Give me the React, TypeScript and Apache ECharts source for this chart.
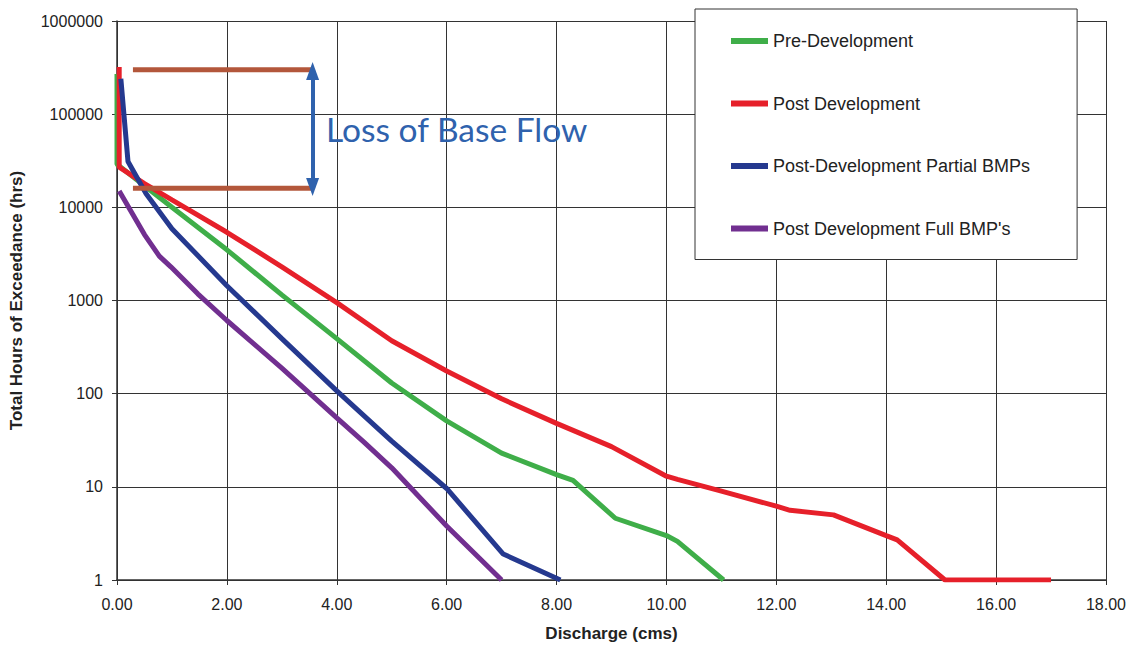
import React, { useEffect, useRef } from "react";
import * as echarts from "echarts";

const preX = [0, 0, 0.5, 1.0, 2.0, 3.0, 4.0, 5.0, 6.0, 7.0, 8.0, 8.3, 9.07, 10.0, 10.2, 11.04];
const preY = [270000, 29000, 17000, 10000, 3500, 1150, 390, 130, 51, 23, 13.5, 11.7, 4.6, 3.0, 2.6, 1];

const postX = [0.04, 0.04, 0.5, 1.0, 2.0, 3.0, 4.0, 5.0, 6.0, 7.0, 8.0, 9.0, 10.0, 10.2, 11.0, 12.0, 12.25, 13.04, 14.0, 14.2, 15.07, 16.0, 17.0];
const postY = [320000, 27000, 18000, 12000, 5400, 2300, 950, 370, 175, 88, 48, 27, 13, 12, 9, 6.2, 5.6, 5.0, 3.0, 2.7, 1, 1, 1];

const partialX = [0.07, 0.2, 0.53, 1.0, 2.0, 3.0, 4.0, 5.0, 6.0, 7.03, 8.07];
const partialY = [240000, 31000, 14000, 5900, 1440, 390, 107, 31, 9.6, 1.9, 1];

const fullX = [0.04, 0.5, 0.77, 0.98, 1.47, 2.0, 3.0, 4.0, 4.5, 5.0, 6.0, 7.0];
const fullY = [15000, 5100, 3000, 2300, 1180, 610, 188, 55, 30, 16, 3.8, 1];

const seriesNames = [
  "Pre-Development",
  "Post Development",
  "Post-Development Partial BMPs",
  "Post Development Full BMP's",
];
const seriesColors = ["#3fae49", "#e6202a", "#25398f", "#712f90"];

// Annotation: base flow band
const bandX = [0.29, 3.56];
const bandHigh = 300000;
const bandLow = 16000;
const annotationText = "Loss of Base Flow";

const xTicks = { min: 0, max: 18, interval: 2 };
const yTicks = { min: 1, max: 1000000 };

const zip = (xs: number[], ys: number[]) => xs.map((x, i) => [x, ys[i]]);

const FONT = "'Liberation Sans', Arial, Helvetica, sans-serif";

export default function App() {
  const ref = useRef<HTMLDivElement>(null);
  useEffect(() => {
    if (!ref.current) return;
    const chart = echarts.init(ref.current, undefined, { renderer: "svg" });
    const dataSets = [zip(preX, preY), zip(postX, postY), zip(partialX, partialY), zip(fullX, fullY)];
    const mainSeries = dataSets.map((d, i) => ({
      name: seriesNames[i],
      type: "line",
      data: d,
      symbol: "none",
      lineStyle: { width: 5, color: seriesColors[i] },
      itemStyle: { color: seriesColors[i] },
      z: 3,
    }));
    chart.setOption({
      animation: false,
      backgroundColor: "#ffffff",
      grid: { left: 116, right: 23, top: 21, bottom: 64 },
      xAxis: {
        type: "value",
        min: xTicks.min,
        max: xTicks.max,
        interval: xTicks.interval,
        name: "Discharge (cms)",
        nameLocation: "middle",
        nameGap: 45,
        nameTextStyle: { fontFamily: FONT, fontWeight: "bold", fontSize: 17, color: "#222" },
        axisLine: { lineStyle: { color: "#333", width: 1.5 } },
        axisTick: { show: true, inside: false, length: 5, lineStyle: { color: "#333" } },
        axisLabel: {
          fontFamily: FONT,
          fontSize: 16,
          color: "#222",
          margin: 16,
          formatter: (v: number) => v.toFixed(2),
        },
        splitLine: { show: true, lineStyle: { color: "#333", width: 1 } },
      },
      yAxis: {
        type: "log",
        logBase: 10,
        min: yTicks.min,
        max: yTicks.max,
        splitNumber: 6,
        name: "Total Hours of Exceedance (hrs)",
        nameLocation: "middle",
        nameGap: 92,
        nameRotate: 90,
        nameTextStyle: { fontFamily: FONT, fontWeight: "bold", fontSize: 17, color: "#222" },
        axisLine: { show: true, lineStyle: { color: "#333", width: 1.5 } },
        axisTick: { show: true, inside: false, length: 5, lineStyle: { color: "#333" } },
        axisLabel: {
          fontFamily: FONT,
          fontSize: 16,
          color: "#222",
          margin: 14,
          formatter: (v: number) => String(Math.round(v)),
        },
        splitLine: { show: true, lineStyle: { color: "#333", width: 1 } },
        minorTick: { show: false },
      },
      legend: {
        data: seriesNames,
        orient: "vertical",
        left: 695,
        top: 9,
        padding: [23, 47, 22, 36],
        itemGap: 44.5,
        itemWidth: 37,
        itemHeight: 6,
        icon: "rect",
        backgroundColor: "#ffffff",
        borderColor: "#333",
        borderWidth: 1,
        borderRadius: 0,
        textStyle: { fontFamily: FONT, fontSize: 18, color: "#222", lineHeight: 18 },
      },
      graphic: [
        {
          type: "text",
          left: 326,
          top: 112,
          z: 10,
          style: {
            text: annotationText,
            fontFamily: "Lato, 'Open Sans', sans-serif",
            fontSize: 33.5,
            fill: "#2f62ad",
          },
        },
      ],
      series: [
        ...mainSeries,
        {
          name: "bandHigh",
          type: "line",
          data: bandX.map((x) => [x, bandHigh]),
          symbol: "none",
          lineStyle: { width: 5, color: "#b3573b" },
          silent: true,
          z: 4,
        },
        {
          name: "bandLow",
          type: "line",
          data: bandX.map((x) => [x, bandLow]),
          symbol: "none",
          lineStyle: { width: 5, color: "#b3573b" },
          silent: true,
          z: 4,
          markLine: {
            silent: true,
            symbol: ["triangle", "triangle"],
            symbolSize: [13, 18],
            label: { show: false },
            lineStyle: { color: "#2f62ad", width: 4, type: "solid" },
            data: [
              [
                { coord: [bandX[1], bandHigh * 0.97] },
                { coord: [bandX[1], bandLow * 1.03] },
              ],
            ],
          },
        },
      ],
    });
    return () => chart.dispose();
  }, []);
  return (
    <div
      ref={ref}
      style={{ position: "absolute", left: 0, top: 0, width: 1129, height: 647 }}
    />
  );
}
